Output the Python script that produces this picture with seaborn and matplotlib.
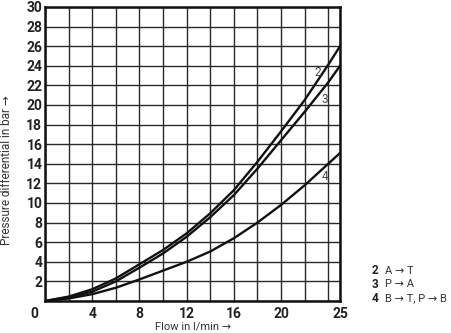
import matplotlib
matplotlib.use("Agg")
import matplotlib.pyplot as plt
import matplotlib.transforms as mtrans
import seaborn as sns
import pandas as pd

# ---- data ----
flow = [0, 2, 4, 6, 8, 10, 12, 14, 16, 18, 20, 22, 24, 25]
curve_2 = [0, 0.45, 1.2, 2.3, 3.75, 5.2, 6.9, 8.95, 11.3, 14.2, 17.3, 20.5, 24.1, 26.0]
curve_3 = [0, 0.38, 0.95, 2.0, 3.4, 4.85, 6.55, 8.55, 10.8, 13.5, 16.4, 19.3, 22.3, 24.0]
curve_4 = [0, 0.25, 0.7, 1.35, 2.2, 3.1, 4.0, 5.05, 6.4, 8.0, 9.8, 11.8, 14.0, 15.1]
curve_names = ["2", "3", "4"]

x_ticks = [0, 2, 4, 6, 8, 10, 12, 14, 16, 18, 20, 22, 24, 25]
x_tick_labels = ["0", "", "4", "", "8", "", "12", "", "16", "", "20", "", "", "25"]
y_ticks = list(range(0, 31, 2))
y_tick_labels = [""] + [str(v) for v in range(2, 31, 2)]

legend_numbers = ["2", "3", "4"]
legend_texts = ["A \u2192 T", "P \u2192 A", "B \u2192 T, P \u2192 B"]

x_label = "Flow in l/min \u2192"
y_label = "Pressure differential in bar \u2192"

# ---- style ----
sns.set_theme(style="white")
plt.rcParams["font.family"] = ["Roboto", "DejaVu Sans"]

W, H = 451, 333
fig = plt.figure(figsize=(W / 100, H / 100), dpi=100)
ax = fig.add_axes([45 / W, 32 / H, 295 / W, 294 / H])

n = len(flow)
df = pd.DataFrame({
    "flow": flow * 3,
    "dp": curve_2 + curve_3 + curve_4,
    "curve": [curve_names[0]] * n + [curve_names[1]] * n + [curve_names[2]] * n,
})
sns.lineplot(data=df, x="flow", y="dp", hue="curve",
             palette={k: "#111111" for k in curve_names},
             estimator=None, linewidth=1.7, legend=False, ax=ax, zorder=3)

ax.set_xlim(0, 25)
ax.set_ylim(0, 30)
ax.set_xticks(x_ticks)
ax.set_xticklabels(x_tick_labels, fontsize=10, fontweight="bold", color="#222222")
ax.set_yticks(y_ticks)
ax.set_yticklabels(y_tick_labels, fontsize=10, fontweight="bold", color="#222222")
ax.tick_params(axis="both", length=0)
ax.tick_params(axis="x", pad=4)
ax.tick_params(axis="y", pad=2)
ax.set_xlabel("")
ax.set_ylabel("")

# shift the corner "0" a bit left
lbl0 = ax.get_xticklabels()[0]
lbl0.set_transform(lbl0.get_transform() + mtrans.ScaledTranslation(-8 / 72, 0, fig.dpi_scale_trans))

ax.grid(True, color="#2a2a2a", linewidth=1.0)
ax.set_axisbelow(True)
for s in ax.spines.values():
    s.set_color("#111111")
    s.set_linewidth(1.8)

# curve labels
label_pos = {"2": (23.1, 23.3), "3": (23.7, 20.6), "4": (23.7, 12.7)}
for k in curve_names:
    ax.text(label_pos[k][0], label_pos[k][1], k, fontsize=8.5, color="#444444",
            ha="center", va="center", zorder=4)

# axis labels
fig.text(7 / W, 1 - 170 / H, y_label, rotation=90, ha="center", va="center",
         fontsize=8.5, color="#333333")
fig.text(193 / W, 1 - 326 / H, x_label, ha="center", va="center",
         fontsize=8, color="#333333")

# legend block
rows_y = [270.5, 284.3, 298.3]
for num, txt, yy in zip(legend_numbers, legend_texts, rows_y):
    fig.text(372 / W, 1 - yy / H, num, ha="left", va="center", fontsize=8.5,
             fontweight="bold", color="#222222")
    fig.text(385 / W, 1 - yy / H, txt, ha="left", va="center", fontsize=8,
             color="#333333")

fig.savefig("out.png", dpi=100, facecolor="white")
